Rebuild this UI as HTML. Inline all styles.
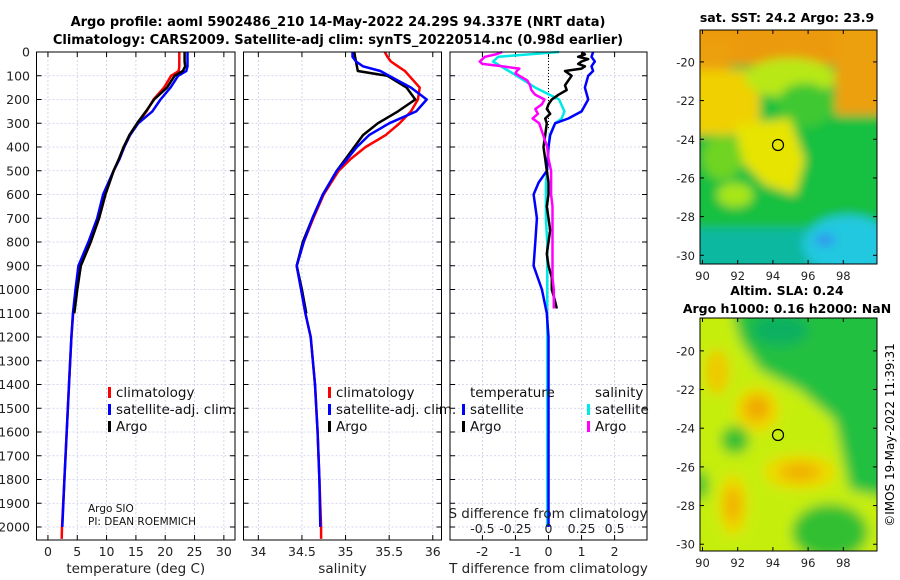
<!DOCTYPE html>
<html><head><meta charset="utf-8"><style>
html,body{margin:0;padding:0;background:#fff;}
svg{display:block;font-family:"DejaVu Sans","Liberation Sans",sans-serif;}
</style></head><body>
<svg id="fig" width="900" height="580" viewBox="0 0 900 580">
<defs>
<filter id="blurT" filterUnits="userSpaceOnUse" x="680" y="10" width="220" height="270"><feGaussianBlur stdDeviation="5"/></filter>
<filter id="blurB" filterUnits="userSpaceOnUse" x="680" y="300" width="220" height="270"><feGaussianBlur stdDeviation="6"/></filter>
<clipPath id="clipTop"><rect x="700" y="30" width="177" height="234"/></clipPath>
<clipPath id="clipBot"><rect x="700" y="318" width="177" height="233"/></clipPath>
</defs>
<text x="338" y="26" text-anchor="middle" font-size="13" font-weight="bold">Argo profile: aoml 5902486_210 14-May-2022 24.29S 94.337E (NRT data)</text>
<text x="338" y="44" text-anchor="middle" font-size="13" font-weight="bold">Climatology: CARS2009. Satellite-adj clim: synTS_20220514.nc (0.98d earlier)</text>

<g>
<text x="787" y="22" text-anchor="middle" font-size="12.5" font-weight="bold">sat. SST: 24.2 Argo: 23.9</text>
<g clip-path="url(#clipTop)">
<g filter="url(#blurT)">
<rect x="680" y="10" width="220" height="270" fill="#14c040"/>
<rect x="680" y="10" width="220" height="55" fill="#ec9a10"/>
<rect x="680" y="40" width="50" height="45" fill="#eca010"/>
<rect x="835" y="10" width="60" height="105" fill="#eca010"/>
<rect x="680" y="70" width="80" height="65" fill="#f0d000"/>
<ellipse cx="790" cy="78" rx="45" ry="20" fill="#b8e818"/>
<ellipse cx="805" cy="105" rx="28" ry="22" fill="#40c830"/>
<polygon points="735,125 790,118 805,160 795,195 765,185 740,160" fill="#e6e400"/>
<ellipse cx="722" cy="158" rx="20" ry="22" fill="#70d420"/>
<ellipse cx="735" cy="195" rx="18" ry="12" fill="#a8e618"/>
<rect x="680" y="228" width="220" height="50" fill="#10b8a0"/>
<ellipse cx="848" cy="245" rx="45" ry="30" fill="#20c8e0"/>
<ellipse cx="825" cy="240" rx="10" ry="6" fill="#3090f0"/>
</g>
</g>
<rect x="700" y="30" width="177" height="234" fill="none" stroke="#000" stroke-width="1"/>
<circle cx="778" cy="145" r="5.5" fill="none" stroke="#000" stroke-width="1.2"/>
</g>

<g>
<text x="787" y="295" text-anchor="middle" font-size="12.5" font-weight="bold">Altim. SLA: 0.24</text>
<text x="787" y="313" text-anchor="middle" font-size="12.5" font-weight="bold">Argo h1000: 0.16 h2000: NaN</text>
<g clip-path="url(#clipBot)">
<g filter="url(#blurB)">
<rect x="680" y="300" width="220" height="270" fill="#c6ee10"/>
<polygon points="730,300 900,300 900,500 850,490 835,420 800,390 760,370 740,340" fill="#22c040"/>
<ellipse cx="780" cy="330" rx="28" ry="16" fill="#10b060"/>
<ellipse cx="735" cy="440" rx="14" ry="14" fill="#30c030"/>
<ellipse cx="830" cy="532" rx="38" ry="28" fill="#30c030"/>
<ellipse cx="700" cy="485" rx="8" ry="15" fill="#30c030"/>
<ellipse cx="757" cy="410" rx="22" ry="22" fill="#f0d800"/>
<ellipse cx="757" cy="408" rx="13" ry="13" fill="#f0a800"/>
<ellipse cx="800" cy="472" rx="36" ry="17" fill="#f0d800"/>
<ellipse cx="800" cy="472" rx="20" ry="9" fill="#f0b000"/>
<ellipse cx="733" cy="505" rx="14" ry="30" fill="#f0d800"/>
<ellipse cx="733" cy="505" rx="8" ry="18" fill="#f0b000"/>
<ellipse cx="717" cy="372" rx="12" ry="22" fill="#f0c800"/>
</g>
</g>
<rect x="700" y="318" width="177" height="233" fill="none" stroke="#000" stroke-width="1"/>
<circle cx="778" cy="435" r="5.5" fill="none" stroke="#000" stroke-width="1.2"/>
<text transform="translate(894,435) rotate(-90)" text-anchor="middle" font-size="12">©IMOS 19-May-2022 11:39:31</text>
</g>
<g id="plots"></g>
</svg>
<script>
const depthLevels = [0,20,40,60,80,100,150,200,250,300,350,400,450,500,600,700,800,900,1000,1100,1200,1400,1600,1800,2000,2050];
const tempClim   = [22.4,22.4,22.4,22.4,22.3,21.0,19.8,18.0,16.8,15.3,14.0,13.0,12.2,11.2,9.8,8.7,7.3,5.6,4.9,4.3,4.0,3.6,3.2,2.8,2.4,2.35];
const tempSat    = [23.8,23.8,23.8,23.8,23.6,22.2,20.9,19.2,17.8,15.4,14.0,13.0,12.2,11.2,9.4,8.4,6.9,5.2,4.7,4.25,4.0,3.6,3.2,2.8,2.45];
const tempArgo   = [23.3,23.3,23.3,23.4,23.0,21.6,20.3,18.1,16.7,15.2,13.9,12.9,12.1,11.2,9.8,8.7,7.3,5.6,5.0,4.5];
const salClim    = [35.45,35.48,35.52,35.6,35.68,35.73,35.85,35.83,35.75,35.62,35.46,35.23,35.06,34.92,34.75,34.63,34.52,34.44,34.49,34.54,34.6,34.65,34.68,34.7,34.72,34.72];
const salSat     = [35.08,35.08,35.12,35.2,35.4,35.5,35.75,35.93,35.81,35.5,35.27,35.13,35.02,34.9,34.74,34.62,34.52,34.44,34.49,34.54,34.6,34.65,34.68,34.7,34.71];
const salArgo    = [35.1,35.11,35.12,35.13,35.14,35.48,35.7,35.8,35.6,35.37,35.2,35.1,35.0,34.9,34.74,34.62,34.51,34.44,34.5,34.55];
const diffDepth  = [0,10,20,30,40,50,60,70,80,90,100,120,140,160,180,200,220,240,260,280,300,350,400,450,500,550,600,650,700,750,800,850,900,950,1000,1050,1080];
const tDiffArgo  = [1.0,1.1,0.9,1.2,1.0,0.9,1.1,1.0,0.5,0.6,0.7,0.6,0.5,0.55,0.3,0.1,0.0,-0.05,0.05,-0.1,-0.05,-0.1,-0.15,-0.1,-0.05,0.0,0.0,-0.05,0.0,0.05,0.0,-0.05,0.0,0.1,0.1,0.2,0.25];
const sDiffArgo  = [-0.35,-0.4,-0.48,-0.5,-0.52,-0.5,-0.35,-0.22,-0.24,-0.25,-0.22,-0.16,-0.14,-0.13,-0.1,-0.03,-0.05,-0.1,-0.08,-0.12,-0.07,-0.04,-0.01,0.0,0.02,0.02,0.02,0.03,0.03,0.03,0.03,0.03,0.03,0.03,0.04,0.04,0.04];
const satDepth   = [0,20,40,60,80,100,150,200,250,280,300,350,400,500,550,600,650,700,800,900,1000,1100,1200,1500,2000];
const tDiffSat   = [1.35,1.3,1.4,1.3,1.35,1.2,1.1,1.2,1.0,0.6,0.2,0.05,0.0,-0.05,-0.3,-0.45,-0.4,-0.35,-0.4,-0.45,-0.2,-0.05,0.0,0.0,0.0];
const sDiffSat   = [0.08,-0.38,-0.42,-0.36,-0.3,-0.24,-0.1,0.08,0.12,0.1,0.05,0.01,0.0,-0.01,-0.02,-0.02,-0.02,-0.02,-0.01,-0.01,-0.01,-0.01,-0.01,-0.01,-0.01];
const depthTicks = [0,100,200,300,400,500,600,700,800,900,1000,1100,1200,1300,1400,1500,1600,1700,1800,1900,2000];
const tempTicks  = [0,5,10,15,20,25,30];
const salTicks   = [34,34.5,35,35.5,36];
const tDiffTicks = [-2,-1,0,1,2];
const sDiffTicks = [-0.5,-0.25,0,0.25,0.5];

const NS='http://www.w3.org/2000/svg';
const root=document.getElementById('plots');
function el(tag,attrs,parent,text){const e=document.createElementNS(NS,tag);for(const k in attrs)e.setAttribute(k,attrs[k]);if(text!==undefined)e.textContent=text;(parent||root).appendChild(e);return e;}
const TOP=52, PB=540;
const yScale=d=>TOP+d*0.2375;
const panels=[
 {x0:36.5,x1:235,min:-1.95,max:31.9,ticks:tempTicks,label:'temperature (deg C)',name:'temperature-panel'},
 {x0:243.5,x1:441.5,min:33.83,max:36.1,ticks:salTicks,label:'salinity',name:'salinity-panel'},
 {x0:450,x1:647,min:-2.98,max:2.98,ticks:tDiffTicks,label:'T difference from climatology',name:'difference-panel'}
];
panels.forEach(p=>{p.sx=v=>p.x0+(v-p.min)/(p.max-p.min)*(p.x1-p.x0);});
function line(xs,ds,sx,color,w,name){
  const pts=xs.map((v,i)=>sx(v).toFixed(1)+','+yScale(ds[i]).toFixed(1)).join(' ');
  const l=el('polyline',{points:pts,fill:'none',stroke:color,'stroke-width':w,'stroke-linejoin':'round'});
  
  
}
panels.forEach((p,pi)=>{
  const g=el('g',{});
  
  
  depthTicks.forEach(d=>{
    el('line',{x1:p.x0,x2:p.x1,y1:yScale(d),y2:yScale(d),stroke:'#c8cce8','stroke-width':0.8,'stroke-dasharray':'2,2'},g);
    el('line',{x1:p.x0,x2:p.x0+5,y1:yScale(d),y2:yScale(d),stroke:'#000','stroke-width':1},g);
    el('line',{x1:p.x1-5,x2:p.x1,y1:yScale(d),y2:yScale(d),stroke:'#000','stroke-width':1},g);
    if(pi===0){const t=el('text',{x:30,y:yScale(d)+4.5,'text-anchor':'end','font-size':12.5,fill:'#222'},g,String(d));
      
      }
  });
  p.ticks.forEach(v=>{
    const x=p.sx(v);
    el('line',{x1:x,x2:x,y1:TOP,y2:PB,stroke:'#c8cce8','stroke-width':0.8,'stroke-dasharray':'2,2'},g);
    el('line',{x1:x,x2:x,y1:TOP,y2:TOP+5,stroke:'#000'},g);
    el('line',{x1:x,x2:x,y1:PB-5,y2:PB,stroke:'#000'},g);
    const t=el('text',{x:x,y:556,'text-anchor':'middle','font-size':12.5,fill:'#222'},g,String(v));
    
    
  });
  const xl=el('text',{x:(p.x0+p.x1)/2,y:573,'text-anchor':'middle','font-size':13.5,fill:'#222'},g,p.label);
  
  
});
const p0=panels[0],p1=panels[1],p2=panels[2];
line(tempClim,depthLevels,p0.sx,'#ff0000',2.5,'temp-climatology-line');
line(tempSat,depthLevels,p0.sx,'#0000ff',2.5,'temp-satellite-line');
line(tempArgo,depthLevels,p0.sx,'#000000',2.5,'temp-argo-line');
line(salClim,depthLevels,p1.sx,'#ff0000',2.5,'sal-climatology-line');
line(salArgo,depthLevels,p1.sx,'#000000',2.5,'sal-argo-line');
line(salSat,depthLevels,p1.sx,'#0000ff',2.5,'sal-satellite-line');
const sdx=v=>p2.sx(v*4);
el('line',{x1:p2.sx(0),x2:p2.sx(0),y1:TOP,y2:yScale(320),stroke:'#000','stroke-width':1,'stroke-dasharray':'1,2'});
line(sDiffSat,satDepth,sdx,'#00e8e8',2.5,'sdiff-satellite-line');
line(tDiffSat,satDepth,p2.sx,'#0000ff',2.5,'tdiff-satellite-line');
line(tDiffArgo,diffDepth,p2.sx,'#000000',2.5,'tdiff-argo-line');
line(sDiffArgo,diffDepth,sdx,'#ff00ff',2.5,'sdiff-argo-line');
sDiffTicks.forEach(v=>{const t=el('text',{x:sdx(v),y:533,'text-anchor':'middle','font-size':12.5,fill:'#222'},root,String(v));
  
  });
const st=el('text',{x:548,y:518,'text-anchor':'middle','font-size':13.5,fill:'#222'},root,'S difference from climatology');


panels.forEach(p=>{const r=el('rect',{x:p.x0,y:TOP,width:p.x1-p.x0,height:PB-TOP,fill:'none',stroke:'#000','stroke-width':1});
  
  });
function legend(x,y,color,label){
  el('rect',{x:x,y:y-10,width:3,height:11,fill:color});
  const t=el('text',{x:x+8,y:y,'font-size':13.5,fill:'#111'},root,label);
  
  
}
[108,328].forEach(x=>{
  legend(x,397,'#ff0000','climatology');
  legend(x,414,'#0000ff','satellite-adj. clim.');
  legend(x,431,'#000000','Argo');
});
let t1=el('text',{x:470,y:397,'font-size':13.5,fill:'#111'},root,'temperature');


let t2=el('text',{x:595,y:397,'font-size':13.5,fill:'#111'},root,'salinity');


legend(462,414,'#0000ff','satellite');
legend(462,431,'#000000','Argo');
legend(587,414,'#00e8e8','satellite');
legend(587,431,'#ff00ff','Argo');
let a1=el('text',{x:88,y:512,'font-size':10.5,fill:'#111'},root,'Argo SIO');


let a2=el('text',{x:88,y:525,'font-size':10.5,fill:'#111'},root,'PI: DEAN ROEMMICH');


const lonTicks=[90,92,94,96,98];
const latTicks=[-20,-22,-24,-26,-28,-30];
function mapAxes(top,bottom,latTop,latBot){
  const lx=v=>702.5+(v-90)*17.6;
  const ly=v=>top+(latTop-v)/(latTop-latBot)*(bottom-top);
  lonTicks.forEach(v=>{
    el('line',{x1:lx(v),x2:lx(v),y1:bottom,y2:bottom-4,stroke:'#000'});
    el('line',{x1:lx(v),x2:lx(v),y1:top,y2:top+4,stroke:'#000'});
    const t=el('text',{x:lx(v),y:bottom+16,'text-anchor':'middle','font-size':11.5,fill:'#222'},root,String(v));
    
    
  });
  latTicks.forEach(v=>{
    el('line',{x1:700,x2:704,y1:ly(v),y2:ly(v),stroke:'#000'});
    el('line',{x1:873,x2:877,y1:ly(v),y2:ly(v),stroke:'#000'});
    const t=el('text',{x:695,y:ly(v)+4.5,'text-anchor':'end','font-size':11.5,fill:'#222'},root,String(v));
    
    
  });
}
mapAxes(30,264,-18.35,-30.45);
mapAxes(318,551,-18.3,-30.35);
</script>
</body></html>
